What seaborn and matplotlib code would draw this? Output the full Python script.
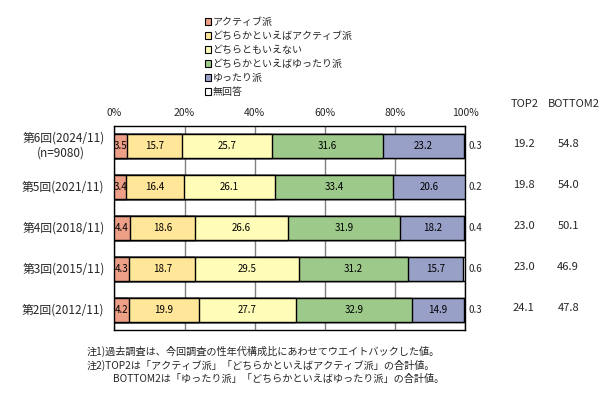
import numpy as np
import pandas as pd
import matplotlib
matplotlib.use("Agg")
import matplotlib.pyplot as plt
import seaborn as sns
from matplotlib.patches import Patch

sns.set_theme(style="white")
plt.rcParams['font.family'] = ['Noto Sans CJK JP', 'DejaVu Sans']

waves = ['第6回(2024/11)', '第5回(2021/11)', '第4回(2018/11)', '第3回(2015/11)', '第2回(2012/11)']
series_names = ['アクティブ派', 'どちらかといえばアクティブ派', 'どちらともいえない',
                'どちらかといえばゆったり派', 'ゆったり派', '無回答']
active = [3.5, 3.4, 4.4, 4.3, 4.2]
lean_active = [15.7, 16.4, 18.6, 18.7, 19.9]
neutral = [25.7, 26.1, 26.6, 29.5, 27.7]
lean_relax = [31.6, 33.4, 31.9, 31.2, 32.9]
relax = [23.2, 20.6, 18.2, 15.7, 14.9]
no_answer = [0.3, 0.2, 0.4, 0.6, 0.3]
top2 = [19.2, 19.8, 23.0, 23.0, 24.1]
bottom2 = [54.8, 54.0, 50.1, 46.9, 47.8]
xticks = [0, 20, 40, 60, 80, 100]
xtick_labels = ['0%', '20%', '40%', '60%', '80%', '100%']

colors = ['#EE9F88', '#FFE699', '#FFFDB8', '#9DC98A', '#98A0C8', '#FFFFFF']
series = [active, lean_active, neutral, lean_relax, relax, no_answer]

fig = plt.figure(figsize=(6.10, 3.98), dpi=100)
ax = fig.add_axes([114.3/610, 1-330/398, (465.3-114.3)/610, (330-126)/398])

cum = np.cumsum(np.array(series), axis=0)
df = pd.DataFrame({'wave': waves})
for i in reversed(range(len(series))):
    df['v'] = np.minimum(cum[i], 100)
    sns.barplot(data=df, x='v', y='wave', orient='h', color=colors[i], saturation=1,
                edgecolor='black', linewidth=1.0, width=0.59, ax=ax, zorder=3)

# segment labels
for i in range(5):
    starts = cum[i] - np.array(series[i])
    for j in range(len(waves)):
        ax.text(starts[j] + series[i][j] / 2, j, f'{series[i][j]:.1f}', ha='center', va='center',
                fontsize=7, color='black', zorder=5, clip_on=True)

ax.set_xlim(0, 100)
ax.set_ylim(4.49, -0.49)
ax.set_xticks(xticks)
ax.set_xticklabels(xtick_labels)
ax.xaxis.tick_top()
ax.tick_params(axis='x', length=0, pad=6, labelsize=7.5)
ax.set_yticks([])
ax.set_xlabel('')
ax.set_ylabel('')
ax.grid(axis='x', color='#808080', linewidth=1)
ax.set_axisbelow(True)
for s in ax.spines.values():
    s.set_color('black')
    s.set_linewidth(1)

# category labels
for j, w in enumerate(waves):
    if j == 0:
        ax.text(-2.8, j - 0.19, w, ha='right', va='center', fontsize=8.5)
        ax.text(-15.2, j + 0.17, '(n=9080)', ha='center', va='center', fontsize=8.5)
    else:
        ax.text(-2.8, j, w, ha='right', va='center', fontsize=8.5)

# right side values
for j in range(len(waves)):
    ax.text(100.9, j, f'{no_answer[j]:.1f}', ha='left', va='center', fontsize=7, clip_on=False)
    ax.text(116.7, j - 0.05, f'{top2[j]:.1f}', ha='center', va='center', fontsize=8, clip_on=False)
    ax.text(129.3, j - 0.05, f'{bottom2[j]:.1f}', ha='center', va='center', fontsize=8, clip_on=False)
fig.text(525/610, 1-104/398, 'TOP2', ha='center', va='center', fontsize=8)
fig.text(574/610, 1-104/398, 'BOTTOM2', ha='center', va='center', fontsize=8)

# legend
handles = [Patch(facecolor=c, edgecolor='black', linewidth=0.8) for c in colors]
fig.legend(handles, series_names, loc='upper left', bbox_to_anchor=(205/610, 1-17/398),
           frameon=False, fontsize=7.2, handlelength=0.6, handleheight=0.6,
           handletextpad=0.15, labelspacing=0.4, borderpad=0, borderaxespad=0)

# notes
fig.text(87/610, 1-351/398, '注1)過去調査は、今回調査の性年代構成比にあわせてウエイトバックした値。',
         ha='left', va='center', fontsize=7.3)
fig.text(87/610, 1-365/398, '注2)TOP2は「アクティブ派」「どちらかといえばアクティブ派」の合計値。',
         ha='left', va='center', fontsize=7.3)
fig.text(113/610, 1-379/398, 'BOTTOM2は「ゆったり派」「どちらかといえばゆったり派」の合計値。',
         ha='left', va='center', fontsize=7.3)

fig.savefig('out.png', dpi=100)
